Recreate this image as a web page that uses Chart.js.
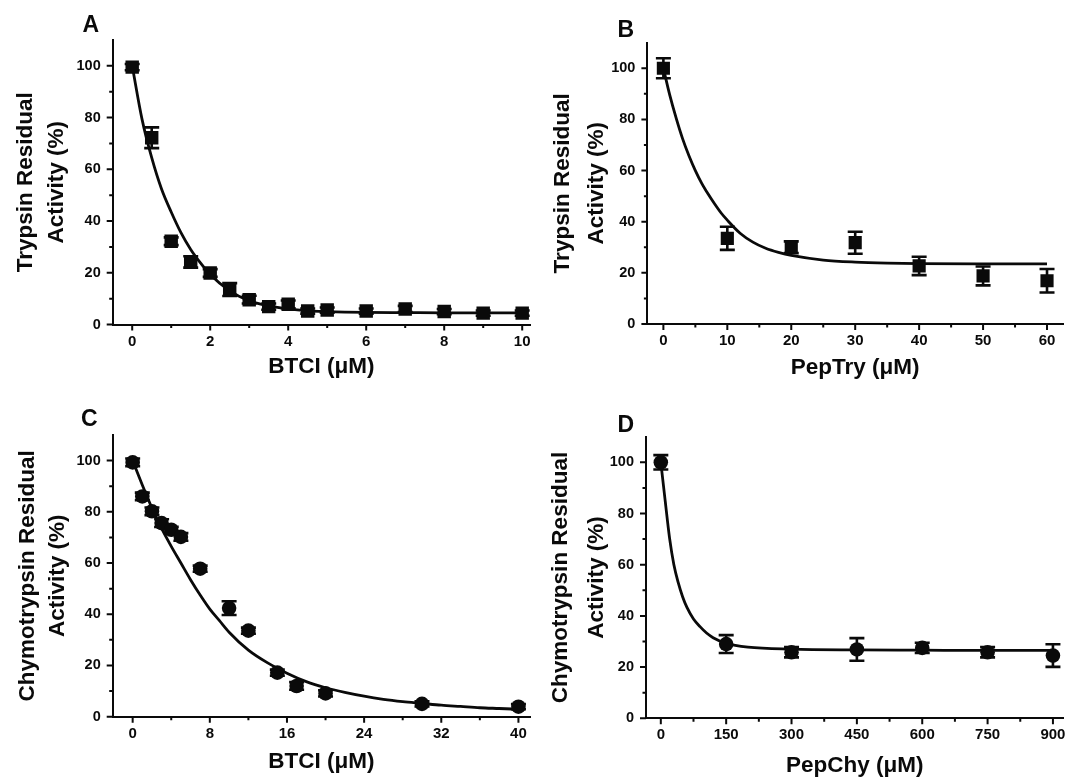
<!DOCTYPE html>
<html>
<head>
<meta charset="utf-8">
<script src="https://cdn.jsdelivr.net/npm/chart.js@4.4.1/dist/chart.umd.min.js"></script>
<style>
  html, body { margin: 0; padding: 0; background: #fff; }
  body { width: 1079px; height: 780px; position: relative; overflow: hidden; }
  canvas { position: absolute; }
</style>
</head>
<body>
<canvas id="panelA" width="540" height="390" style="left:0;top:0"></canvas>
<canvas id="panelB" width="539" height="390" style="left:540px;top:0"></canvas>
<canvas id="panelC" width="540" height="390" style="left:0;top:390px"></canvas>
<canvas id="panelD" width="539" height="390" style="left:540px;top:390px"></canvas>
<script>
// --- A: trypsin + BTCI
const aDose = [0, 0.5, 1, 1.5, 2, 2.5, 3, 3.5, 4, 4.5, 5, 6, 7, 8, 9, 10];
const aActivity = [99.5, 72.2, 32.2, 24.2, 19.9, 13.5, 9.6, 6.9, 7.8, 5.2, 5.6, 5.2, 6, 5, 4.4, 4.4];
const aError = [1.2, 4, 1.5, 2.2, 1.5, 2.5, 1.5, 1.2, 1.5, 1, 1, 1, 1.2, 1, 1, 1];
const aFitX = [0, 0.25, 0.5, 0.75, 1, 1.25, 1.5, 1.75, 2, 2.5, 3, 3.5, 4, 4.5, 5, 6, 7, 8, 9, 10];
const aFitY = [100, 79.5, 64.5, 52.5, 43.5, 35.5, 29, 23.8, 19.3, 13, 9.2, 7.2, 6, 5.3, 5, 4.7, 4.6, 4.5, 4.5, 4.5];
const aXTicks = [0, 2, 4, 6, 8, 10];
const aXMinor = [1, 3, 5, 7, 9];
const aXLabels = ['0', '2', '4', '6', '8', '10'];

// --- B: trypsin + PepTry
const bDose = [0, 10, 20, 30, 40, 50, 60];
const bActivity = [100, 33.5, 30, 31.8, 22.7, 18.8, 16.9];
const bError = [3.9, 4.5, 2.3, 4.3, 3.6, 3.7, 4.6];
const bFitX = [0, 1, 2, 3, 4, 5, 6, 7, 8, 9, 10, 12, 14, 16, 18, 20, 25, 30, 35, 40, 50, 60];
const bFitY = [100, 89.5, 80.5, 72.5, 65.8, 60, 55, 50.8, 47, 43.5, 40.6, 35.5, 32, 29.6, 28, 26.8, 25, 24.2, 23.8, 23.6, 23.5, 23.5];
const bXTicks = [0, 10, 20, 30, 40, 50, 60];
const bXMinor = [5, 15, 25, 35, 45, 55];
const bXLabels = ['0', '10', '20', '30', '40', '50', '60'];

// --- C: chymotrypsin + BTCI
const cDose = [0, 1, 2, 3, 4, 5, 7, 10, 12, 15, 17, 20, 30, 40];
const cActivity = [99.3, 86, 80.2, 75.6, 73, 70.2, 57.8, 42.4, 33.6, 17.2, 12, 9.1, 5, 3.9];
const cError = [1.5, 1.5, 1.5, 1.5, 1.2, 1.5, 1.2, 2.7, 1.2, 1.2, 1.5, 1.2, 1, 1];
const cFitX = [0, 1, 2, 3, 4, 5, 6, 7, 8, 9, 10, 12, 14, 16, 18, 20, 22, 24, 26, 28, 30, 32, 34, 36, 38, 40];
const cFitY = [100, 90.5, 81.5, 73.5, 66.5, 60, 53.5, 47.5, 42, 37.5, 33, 26, 21, 17, 13.7, 11.3, 9.5, 8, 6.8, 5.9, 5.2, 4.5, 4, 3.5, 3.2, 2.9];
const cXTicks = [0, 8, 16, 24, 32, 40];
const cXMinor = [4, 12, 20, 28, 36];
const cXLabels = ['0', '8', '16', '24', '32', '40'];

// --- D: chymotrypsin + PepChy
const dDose = [0, 150, 300, 450, 600, 750, 900];
const dActivity = [100, 29, 25.8, 26.9, 27.5, 25.8, 24.5];
const dError = [2.8, 3.5, 2, 4.4, 2, 2, 4.4];
const dFitX = [0, 10, 20, 30, 40, 50, 60, 75, 90, 105, 120, 150, 200, 300, 450, 600, 750, 900];
const dFitY = [100, 85, 70.5, 60, 53, 47.5, 43.3, 38.8, 35.8, 33.3, 31.5, 29.3, 27.8, 27, 26.7, 26.6, 26.5, 26.5];
const dXTicks = [0, 150, 300, 450, 600, 750, 900];
const dXMinor = [75, 225, 375, 525, 675, 825];
const dXLabels = ['0', '150', '300', '450', '600', '750', '900'];

// shared y axis
const yTicks = [0, 20, 40, 60, 80, 100];
const yMinor = [10, 30, 50, 70, 90];
const yLabels = ['0', '20', '40', '60', '80', '100'];

const INK = '#0a0a0a';
const FONT = '"Liberation Sans", Arial, Helvetica, sans-serif';

// tick marks outward, long for major, short for minor
const tickMarks = {
  id: 'tickMarks',
  afterDraw(chart, args, o) {
    const { ctx, chartArea } = chart;
    const xs = chart.scales.x, ys = chart.scales.y;
    ctx.save();
    ctx.strokeStyle = INK;
    ctx.lineWidth = 2;
    ctx.beginPath();
    const xTick = (v, len) => { const p = xs.getPixelForValue(v); ctx.moveTo(p, chartArea.bottom); ctx.lineTo(p, chartArea.bottom + len); };
    const yTick = (v, len) => { const p = ys.getPixelForValue(v); ctx.moveTo(chartArea.left, p); ctx.lineTo(chartArea.left - len, p); };
    o.xMajor.forEach(v => xTick(v, 6));
    o.xMinor.forEach(v => xTick(v, 3.5));
    yTicks.forEach(v => yTick(v, 6));
    yMinor.forEach(v => yTick(v, 3.5));
    ctx.stroke();
    ctx.restore();
  }
};

// vertical error bars with caps on the first dataset
const errorBars = {
  id: 'errorBars',
  beforeDatasetsDraw(chart, args, o) {
    const { ctx } = chart;
    const xs = chart.scales.x, ys = chart.scales.y;
    const pts = chart.data.datasets[0].data;
    ctx.save();
    ctx.strokeStyle = INK;
    ctx.lineWidth = 2.6;
    ctx.beginPath();
    pts.forEach((p, i) => {
      const x = xs.getPixelForValue(p.x);
      const top = ys.getPixelForValue(p.y + o.errors[i]);
      const bot = ys.getPixelForValue(p.y - o.errors[i]);
      ctx.moveTo(x, top); ctx.lineTo(x, bot);
      ctx.moveTo(x - 7.5, top); ctx.lineTo(x + 7.5, top);
      ctx.moveTo(x - 7.5, bot); ctx.lineTo(x + 7.5, bot);
    });
    ctx.stroke();
    ctx.restore();
  }
};

// panel letter (A, B, C, D)
const panelLetter = {
  id: 'panelLetter',
  afterDraw(chart, args, o) {
    const { ctx } = chart;
    ctx.save();
    ctx.fillStyle = INK;
    ctx.font = 'bold 23px ' + FONT;
    ctx.textBaseline = 'alphabetic';
    ctx.textAlign = 'left';
    ctx.fillText(o.text, o.x, o.y);
    ctx.restore();
  }
};

function makePanel(id, p) {
  const points = p.dose.map((x, i) => ({ x, y: p.activity[i] }));
  const fit = p.fitX.map((x, i) => ({ x, y: p.fitY[i] }));
  const canvas = document.getElementById(id);
  return new Chart(canvas, {
    type: 'scatter',
    data: {
      datasets: [
        {
          data: points,
          order: 0,
          pointStyle: p.marker,
          pointRadius: p.radius,
          backgroundColor: INK,
          borderColor: INK,
          borderWidth: 0,
        },
        {
          data: fit,
          order: 1,
          showLine: true,
          pointRadius: 0,
          borderColor: INK,
          borderWidth: 2.8,
          cubicInterpolationMode: 'monotone',
        },
      ],
    },
    options: {
      responsive: false,
      animation: false,
      events: [],
      layout: { padding: { left: 0, bottom: 0, top: p.top, right: canvas.width - p.right } },
      plugins: {
        legend: { display: false },
        tooltip: { enabled: false },
        tickMarks: { xMajor: p.xTicks, xMinor: p.xMinor },
        errorBars: { errors: p.error },
        panelLetter: p.letter,
      },
      scales: {
        x: {
          type: 'linear',
          min: p.xMin,
          max: p.xMax,
          afterBuildTicks: (s) => { s.ticks = p.xTicks.map(v => ({ value: v })); },
          afterFit: (s) => { s.height = canvas.height - p.bottom; },
          border: { display: true, color: INK, width: 2 },
          grid: { display: true, drawOnChartArea: false, drawTicks: true, tickLength: 6, tickColor: 'rgba(0,0,0,0)' },
          ticks: {
            color: INK,
            padding: 2,
            autoSkip: false,
            maxRotation: 0,
            font: { family: FONT, size: 15, weight: 'bold' },
            callback: (v) => { const i = p.xTicks.indexOf(v); return i >= 0 ? p.xLabels[i] : ''; },
          },
          title: {
            display: true,
            text: p.xTitle,
            color: INK,
            font: { family: FONT, size: 22.5, weight: 'bold', lineHeight: 1.2 },
            padding: { top: 0, bottom: p.xTitlePad },
          },
        },
        y: {
          type: 'linear',
          min: 0,
          max: 110,
          afterBuildTicks: (s) => { s.ticks = yTicks.map(v => ({ value: v })); },
          afterFit: (s) => { s.width = p.left; },
          border: { display: true, color: INK, width: 2 },
          grid: { display: true, drawOnChartArea: false, drawTicks: true, tickLength: 6, tickColor: 'rgba(0,0,0,0)' },
          ticks: {
            color: INK,
            padding: 6,
            font: { family: FONT, size: 14.5, weight: 'bold' },
            callback: (v) => { const i = yTicks.indexOf(v); return i >= 0 ? yLabels[i] : ''; },
          },
          title: {
            display: true,
            text: p.yTitle,
            color: INK,
            font: { family: FONT, size: 22.5, weight: 'bold', lineHeight: p.yTitleLh },
            padding: { top: p.yTitlePad, bottom: 0 },
          },
        },
      },
    },
    plugins: [errorBars, tickMarks, panelLetter],
  });
}

makePanel('panelA', {
  dose: aDose, activity: aActivity, error: aError, fitX: aFitX, fitY: aFitY,
  marker: 'rect', radius: 9.5,
  xMin: -0.5, xMax: 10.2, xTicks: aXTicks, xMinor: aXMinor, xLabels: aXLabels,
  xTitle: 'BTCI (\u03BCM)', yTitle: ['Trypsin Residual', 'Activity (%)'],
  left: 112.7, right: 530, top: 40, bottom: 324.5,
  xTitlePad: 10, yTitleLh: 1.38, yTitlePad: 10,
  letter: { text: 'A', x: 82.6, y: 31.7 },
});

makePanel('panelB', {
  dose: bDose, activity: bActivity, error: bError, fitX: bFitX, fitY: bFitY,
  marker: 'rect', radius: 9.3,
  xMin: -2.5, xMax: 62.5, xTicks: bXTicks, xMinor: bXMinor, xLabels: bXLabels,
  xTitle: 'PepTry (\u03BCM)', yTitle: ['Trypsin Residual', 'Activity (%)'],
  left: 107.4, right: 523, top: 42.7, bottom: 324,
  xTitlePad: 8.5, yTitleLh: 1.5, yTitlePad: 6,
  letter: { text: 'B', x: 77.5, y: 37.3 },
});

makePanel('panelC', {
  dose: cDose, activity: cActivity, error: cError, fitX: cFitX, fitY: cFitY,
  marker: 'circle', radius: 7.3,
  xMin: -2.07, xMax: 41.2, xTicks: cXTicks, xMinor: cXMinor, xLabels: cXLabels,
  xTitle: 'BTCI (\u03BCM)', yTitle: ['Chymotrypsin Residual', 'Activity (%)'],
  left: 112.7, right: 530, top: 45, bottom: 326.7,
  xTitlePad: 5, yTitleLh: 1.33, yTitlePad: 13,
  letter: { text: 'C', x: 81, y: 36 },
});

makePanel('panelD', {
  dose: dDose, activity: dActivity, error: dError, fitX: dFitX, fitY: dFitY,
  marker: 'circle', radius: 7.3,
  xMin: -34, xMax: 924, xTicks: dXTicks, xMinor: dXMinor, xLabels: dXLabels,
  xTitle: 'PepChy (\u03BCM)', yTitle: ['Chymotrypsin Residual', 'Activity (%)'],
  left: 106, right: 523.4, top: 46.7, bottom: 328.3,
  xTitlePad: 1, yTitleLh: 1.6, yTitlePad: 3,
  letter: { text: 'D', x: 77.5, y: 41.7 },
});
</script>
</body>
</html>
